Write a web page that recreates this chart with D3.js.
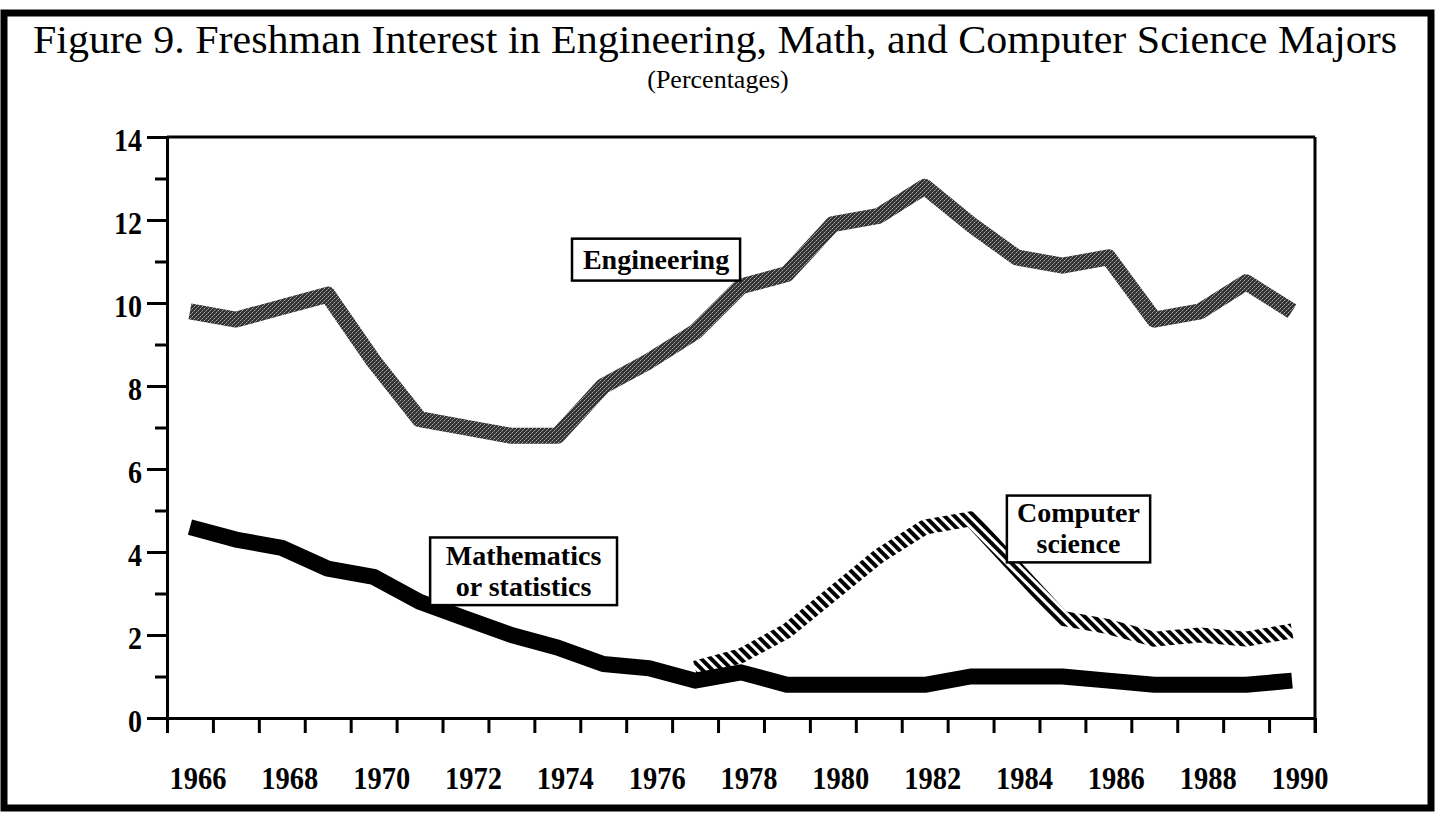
<!DOCTYPE html>
<html>
<head>
<meta charset="utf-8">
<title>Figure 9</title>
<script src="https://d3js.org/d3.v7.min.js"></script>
<style>
  body { margin: 0; background: white; }
  .frame { fill: none; stroke: black; stroke-width: 7px; }
  .plot-edge { stroke: black; stroke-width: 3px; fill: none; }
  .axis path, .axis line { stroke: black; stroke-width: 3px; }
  .axis text, .xlab { font-family: "Liberation Serif", "Times New Roman", serif; font-weight: bold; font-size: 31px; fill: black; }
  .box { fill: white; stroke: black; stroke-width: 2.5px; }
  .box-text { font-family: "Liberation Serif", "Times New Roman", serif; font-weight: bold; font-size: 28px; }
  .title { font-family: "Liberation Serif", "Times New Roman", serif; font-size: 41px; }
  .subtitle { font-family: "Liberation Serif", "Times New Roman", serif; font-size: 26px; }
</style>
</head>
<body>
<svg id="chart" width="1443" height="816"></svg>
<script>
// data
const years = d3.range(1966, 1991);
const engineering = [9.8, 9.6, 9.9, 10.2, 8.6, 7.2, 7.0, 6.8, 6.8, 8.0, 8.6, 9.3, 10.4,
                     10.7, 11.9, 12.1, 12.8, 11.9, 11.1, 10.9, 11.1, 9.6, 9.8, 10.5, 9.8];
const mathStats = [4.6, 4.3, 4.1, 3.6, 3.4, 2.8, 2.4, 2.0, 1.7, 1.3, 1.2, 0.9, 1.1,
                   0.8, 0.8, 0.8, 0.8, 1.0, 1.0, 1.0, 0.9, 0.8, 0.8, 0.8, 0.9];
const csYears = d3.range(1977, 1991);
const compSci = [1.2, 1.5, 2.1, 3.0, 3.9, 4.6, 4.8, 3.6, 2.4, 2.2, 1.9, 2.0, 1.9, 2.1];
const yMajor = [0, 2, 4, 6, 8, 10, 12, 14];
const yMinor = [1, 3, 5, 7, 9, 11, 13];
const xLabels = d3.range(1966, 1991, 2);

// label boxes, in data units
const boxes = [
  {lines: ["Engineering"], x0: 1974.32, x1: 1977.98, y0: 11.55, y1: 10.54},
  {lines: ["Mathematics", "or statistics"], x0: 1971.23, x1: 1975.30, y0: 4.35, y1: 2.72},
  {lines: ["Computer", "science"], x0: 1983.79, x1: 1986.91, y0: 5.36, y1: 3.75}
];

const svg = d3.select("#chart");
const pLeft = 167, pRight = 1315, pTop = 137, pBottom = 718;

const x = d3.scaleLinear().domain([1965.5, 1990.5]).range([pLeft, pRight]);
const y = d3.scaleLinear().domain([0, 14]).range([pBottom, pTop]);

// patterns for the line styles
const defs = svg.append("defs");
const stip = defs.append("pattern").attr("id", "stipple")
  .attr("width", 4).attr("height", 4).attr("patternUnits", "userSpaceOnUse");
stip.append("rect").attr("width", 4).attr("height", 4).attr("fill", "#333");
[[0,0,"#aaa"],[2,2,"#aaa"],[1,3,"#777"],[3,1,"#777"]].forEach(p => {
  stip.append("rect").attr("x", p[0]).attr("y", p[1]).attr("width", 1).attr("height", 1).attr("fill", p[2]);
});
const hatch = defs.append("pattern").attr("id", "hatch")
  .attr("width", 7).attr("height", 7).attr("patternUnits", "userSpaceOnUse")
  .attr("patternTransform", "rotate(-45)");
hatch.append("rect").attr("width", 4).attr("height", 7).attr("fill", "black");

// outer frame
svg.append("rect").attr("class", "frame")
  .attr("x", 4).attr("y", 13).attr("width", 1427).attr("height", 795);

// title
svg.append("text").attr("class", "title")
  .attr("x", 715).attr("y", 53).attr("text-anchor", "middle")
  .attr("textLength", 1364).attr("lengthAdjust", "spacingAndGlyphs")
  .text("Figure 9. Freshman Interest in Engineering, Math, and Computer Science Majors");
svg.append("text").attr("class", "subtitle")
  .attr("x", 718).attr("y", 88).attr("text-anchor", "middle")
  .text("(Percentages)");

// plot top and right edges
svg.append("line").attr("class", "plot-edge")
  .attr("x1", pLeft).attr("x2", pRight).attr("y1", pTop).attr("y2", pTop);
svg.append("line").attr("class", "plot-edge")
  .attr("x1", pRight).attr("x2", pRight).attr("y1", pTop).attr("y2", pBottom + 15);

// axes
svg.append("g").attr("class", "axis")
  .attr("transform", "translate(0," + pBottom + ")")
  .call(d3.axisBottom(x).tickValues(d3.range(1965.5, 1991, 1)).tickFormat("").tickSize(15).tickSizeOuter(0));

svg.append("g").attr("class", "axis")
  .attr("transform", "translate(" + pLeft + ",0)")
  .call(d3.axisLeft(y).tickValues(yMinor).tickFormat("").tickSize(12).tickSizeOuter(0));

const yAx = svg.append("g").attr("class", "axis")
  .attr("transform", "translate(" + pLeft + ",0)")
  .call(d3.axisLeft(y).tickValues(yMajor).tickSize(20).tickSizeOuter(0).tickPadding(5));
yAx.selectAll("text")
  .attr("dy", "0.45em")
  .attr("textLength", d => String(d).length * 14)
  .attr("lengthAdjust", "spacingAndGlyphs");

svg.selectAll("text.xlab").data(xLabels).join("text")
  .attr("class", "xlab")
  .attr("x", d => x(d) + 8).attr("y", 789)
  .attr("text-anchor", "middle")
  .attr("textLength", 57).attr("lengthAdjust", "spacingAndGlyphs")
  .text(d => d);

// lines
const line = d3.line().x(d => x(d[0])).y(d => y(d[1]));

svg.append("path")
  .datum(years.map((yr, i) => [yr, engineering[i]]))
  .attr("d", line)
  .attr("fill", "none").attr("stroke", "url(#stipple)")
  .attr("stroke-width", 16).attr("stroke-linejoin", "round");

svg.append("path")
  .datum(csYears.map((yr, i) => [yr, compSci[i]]))
  .attr("d", line)
  .attr("fill", "none").attr("stroke", "url(#hatch)")
  .attr("stroke-width", 15).attr("stroke-linejoin", "round");

svg.append("path")
  .datum(years.map((yr, i) => [yr, mathStats[i]]))
  .attr("d", line)
  .attr("fill", "none").attr("stroke", "black")
  .attr("stroke-width", 16).attr("stroke-linejoin", "round");

// label boxes
boxes.forEach(b => {
  const bx = x(b.x0), by = y(b.y0), bw = x(b.x1) - x(b.x0), bh = y(b.y1) - y(b.y0);
  svg.append("rect").attr("class", "box")
    .attr("x", bx).attr("y", by).attr("width", bw).attr("height", bh);
  const n = b.lines.length;
  b.lines.forEach((t, i) => {
    svg.append("text").attr("class", "box-text")
      .attr("x", bx + bw / 2)
      .attr("y", by + bh / 2 + (i - (n - 1) / 2) * 31 + 9)
      .attr("text-anchor", "middle")
      .text(t);
  });
});
</script>
</body>
</html>
